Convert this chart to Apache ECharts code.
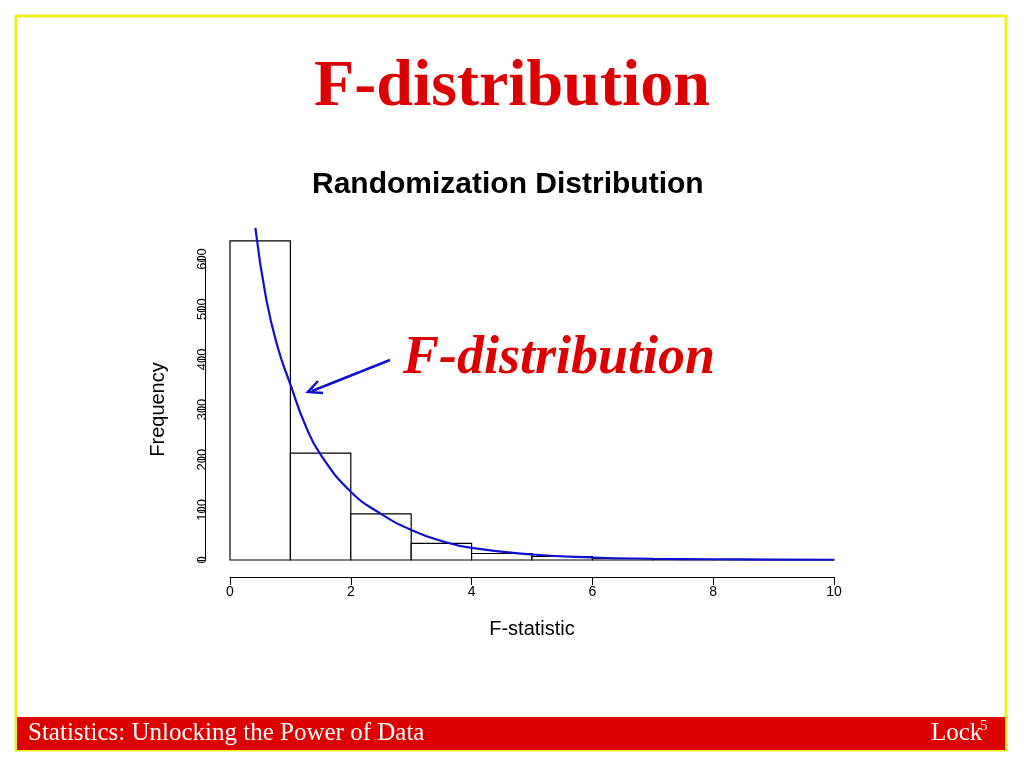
<!DOCTYPE html>
<html><head><meta charset="utf-8">
<script src="https://cdn.jsdelivr.net/npm/echarts@6/dist/echarts.min.js"></script>
<style>html,body{margin:0;padding:0;background:#fff}#c{width:1024px;height:768px}</style>
</head><body><div id="c"></div>
<script>
const binStarts = [0,1,2,3,4,5,6,7,8,9];
const binCounts = [636,213,92,33,13,7,3,1,1,0.5];
const curveX = [0.42,0.6,0.8,1.0,1.25,1.5,2.0,2.5,3.0,3.5,4.0,5.0,6.0,7.0,8.0,9.0,10.0];
const curveY = [662,520,420,350,268,210,136,92,60,38,24,11,5,2.5,1.5,0.8,0.5];
const xTicks = [0,2,4,6,8,10];
const yTicks = [0,100,200,300,400,500,600];

const chart = echarts.init(document.getElementById('c'));
const font = 'Liberation Sans, Arial, sans-serif';
chart.setOption({
  animation:false,
  grid:{left:230,right:190,top:259,bottom:208},
  xAxis:{type:'value',min:0,max:10,interval:2,offset:17,
    axisLine:{onZero:false,lineStyle:{color:'#000'}},axisTick:{inside:false,length:8,lineStyle:{color:'#000'}},
    axisLabel:{color:'#000',fontFamily:font,fontSize:14,margin:8},splitLine:{show:false},
    name:'F-statistic',nameLocation:'middle',nameGap:42,nameTextStyle:{color:'#000',fontFamily:font,fontSize:20}},
  yAxis:{type:'value',min:0,max:600,interval:100,offset:25,
    axisLine:{show:true,onZero:false,lineStyle:{color:'#000'}},axisTick:{show:true,length:8,lineStyle:{color:'#000'}},
    axisLabel:{color:'#000',fontFamily:font,fontSize:13,rotate:90,margin:-4},splitLine:{show:false},
    name:'Frequency',nameLocation:'middle',nameGap:37,nameTextStyle:{color:'#000',fontFamily:font,fontSize:20}},
  series:[
    {type:'custom',clip:false,data:binStarts.map((s,i)=>[s,s+1,binCounts[i]]),
     renderItem:(p,api)=>{const a=api.coord([api.value(0),0]);const b=api.coord([api.value(1),api.value(2)]);
       return {type:'rect',shape:{x:a[0],y:b[1],width:b[0]-a[0],height:a[1]-b[1]},style:{fill:'#fff',stroke:'#000',lineWidth:1.2}};}},
    {type:'line',clip:false,smooth:true,showSymbol:false,data:curveX.map((x,i)=>[x,curveY[i]]),lineStyle:{color:'#1010d0',width:2.2},z:5}
  ],
  graphic:[
    {type:'rect',shape:{x:16,y:16,width:990,height:734},style:{fill:'none',stroke:'#f0f020',lineWidth:3},z:-1},
    {type:'rect',shape:{x:17,y:717,width:988,height:33},style:{fill:'#dd0000'}},
    {type:'text',left:28,top:721,style:{text:'Statistics: Unlocking the Power of Data',fill:'#fff',font:'25px Liberation Serif, serif'}},
    {type:'text',left:931,top:721,style:{text:'Lock',fill:'#fff',font:'25px Liberation Serif, serif'}},
    {type:'text',left:980,top:719,style:{text:'5',fill:'#fff',font:'15px Liberation Serif, serif'}},
    {type:'text',left:'center',top:55,style:{text:'F-distribution',fill:'#dd0000',font:'bold 66px Liberation Serif, serif'}},
    {type:'text',left:312,top:170,style:{text:'Randomization Distribution',fill:'#000',font:'bold 30px Liberation Sans, Arial, sans-serif'}},
    {type:'text',left:403,top:332,style:{text:'F-distribution',fill:'#dd0000',font:'italic bold 54px Liberation Serif, serif'}},
    {type:'line',shape:{x1:390,y1:360,x2:312,y2:391},style:{stroke:'#1010d0',lineWidth:2.5}},
    {type:'polyline',shape:{points:[[318,381],[308,392],[323,393]]},style:{stroke:'#1010d0',lineWidth:2.5,fill:'none'}}
  ]
});
</script></body></html>
